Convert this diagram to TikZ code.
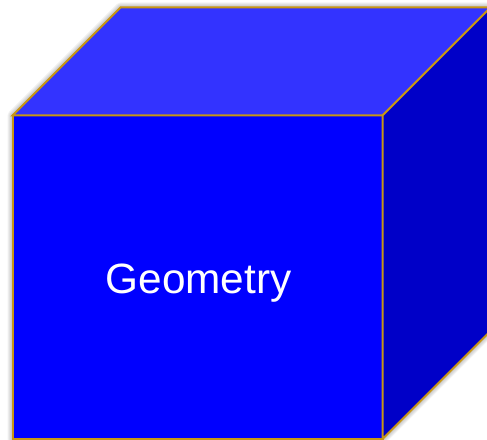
\documentclass[tikz,border=0pt]{standalone}
\usepackage{fontspec}
\setmainfont{Liberation Sans}
\definecolor{frontblue}{RGB}{0,0,255}
\definecolor{topblue}{RGB}{51,51,255}
\definecolor{sideblue}{RGB}{0,0,200}
\definecolor{edgegold}{RGB}{200,150,20}
\tikzset{
  face/.style={draw=edgegold, line width=2bp, line join=miter},
  shadowline/.style={draw=black, line width=#1, draw opacity=0.05, line join=round}
}
\begin{document}
\begin{tikzpicture}[x=1bp,y=-1bp]
\useasboundingbox (0,0) rectangle (487,440);
\clip (0,0) rectangle (487,440);
\coordinate (A) at (12.5,115.5);
\coordinate (B) at (382.5,115.5);
\coordinate (C) at (382.5,439);
\coordinate (D) at (12.5,439);
\coordinate (E) at (120.5,7.5);
\coordinate (F) at (490.5,7.5);
\coordinate (G) at (490.5,331);
% soft shadow
\begin{scope}[shift={(-2,3)}]
\foreach \w in {2,4,6,8,10} {
  \draw[shadowline=\w bp] (A) -- (E) -- (F) -- (G) -- (C) -- (D) -- cycle;
}
\end{scope}
\filldraw[face, fill=frontblue] (A) -- (B) -- (C) -- (D) -- cycle;
\filldraw[face, fill=topblue] (A) -- (E) -- (F) -- (B) -- cycle;
\filldraw[face, fill=sideblue] (B) -- (F) -- (G) -- (C) -- cycle;
\node[text=white, font=\fontsize{42.5}{50}\selectfont, anchor=base, inner sep=0] (label) at (198.5,293) {Geometry};
\end{tikzpicture}
\end{document}
